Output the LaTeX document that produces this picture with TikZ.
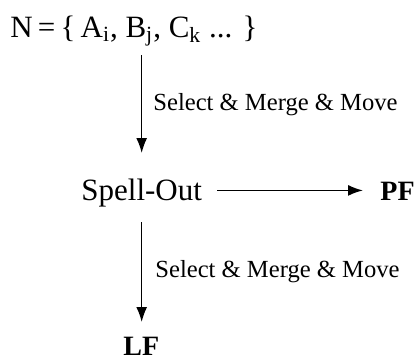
\documentclass[tikz,border=0pt]{standalone}
\usepackage{fontspec}
\setmainfont{Liberation Serif}
\usetikzlibrary{arrows.meta,positioning}
\tikzset{
  mpterm/.style={anchor=base west,inner sep=0pt,font=\fontsize{15.5}{18}\selectfont},
  mpinterface/.style={anchor=base west,inner sep=0pt,font=\fontsize{14}{17}\selectfont\bfseries},
  mplabel/.style={anchor=base west,inner sep=0pt,font=\fontsize{12.3}{15}\selectfont},
  mpflow/.style={-{Latex[length=7.5pt,width=5.5pt]},line width=0.75pt}
}

\begin{document}
\begin{tikzpicture}[x=0.5pt,y=-0.5pt]
  \useasboundingbox (0,0) rectangle (418,361);

  \node[mpterm] (numer) at (10,37)
    {N\,=\,\{\,A\textsubscript{i}, B\textsubscript{j}, C\textsubscript{k} ... \}};
  \node[mpterm] (spell) at (81,200) {Spell-Out};
  \node[mpinterface] (pf) at (380,200) {PF};
  \node[mpinterface] (lf) at (123,355) {LF};

  \draw[mpflow,shorten <=9pt,shorten >=23.5pt] (spell.base |- numer.base) -- (spell.base);
  \draw[mpflow,shorten <=7.5pt,shorten >=8.5pt]
    ([yshift=2.5pt]spell.mid east) -- ([yshift=2.5pt]pf.mid west |- spell.mid east);
  \draw[mpflow,shorten <=11pt,shorten >=16.5pt] (spell.base) -- (spell.base |- lf.base);

  \node[mplabel] (step1) at (153,110) {Select \& Merge \& Move};
  \node[mplabel] (step2) at (155,277) {Select \& Merge \& Move};
\end{tikzpicture}
\end{document}
